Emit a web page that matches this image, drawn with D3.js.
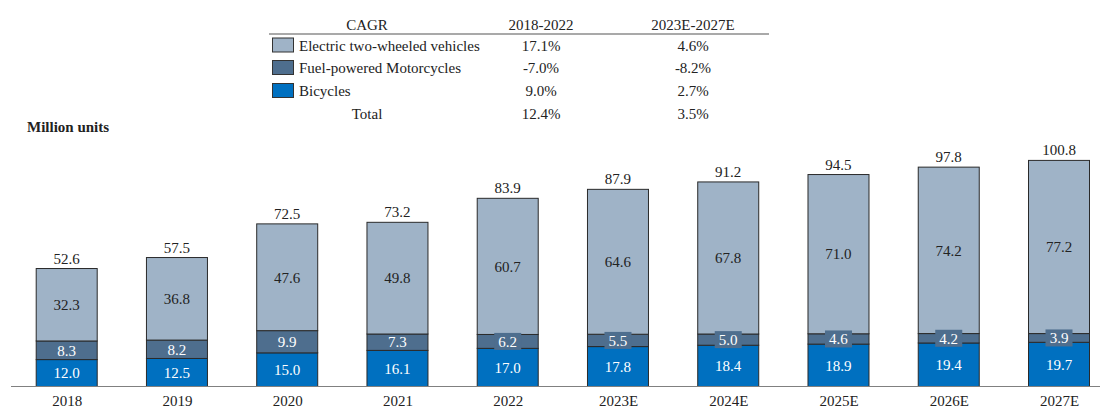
<!DOCTYPE html>
<html>
<head>
<meta charset="utf-8">
<script src="https://cdn.jsdelivr.net/npm/d3@7"></script>
<style>
  body { margin: 0; background: #fff; }
  svg { display: block; font-family: "Liberation Serif", "Times New Roman", serif; }
</style>
</head>
<body>
<section></section>
<script>
const years = ["2018", "2019", "2020", "2021", "2022", "2023E", "2024E", "2025E", "2026E", "2027E"];
const bicycles = [12.0, 12.5, 15.0, 16.1, 17.0, 17.8, 18.4, 18.9, 19.4, 19.7];
const fuelMoto = [8.3, 8.2, 9.9, 7.3, 6.2, 5.5, 5.0, 4.6, 4.2, 3.9];
const electric = [32.3, 36.8, 47.6, 49.8, 60.7, 64.6, 67.8, 71.0, 74.2, 77.2];
const totals = [52.6, 57.5, 72.5, 73.2, 83.9, 87.9, 91.2, 94.5, 97.8, 100.8];

const seriesNames = ["Electric two-wheeled vehicles", "Fuel-powered Motorcycles", "Bicycles"];
const cagrHeader = ["CAGR", "2018-2022", "2023E-2027E"];
const cagr1822 = ["17.1%", "-7.0%", "9.0%", "12.4%"];
const cagr2327 = ["4.6%", "-8.2%", "2.7%", "3.5%"];

const colors = ["#9fb3c7", "#4e6e8e", "#0070c0"];
const W = 1101, H = 408;
const fs = "15px";

const svg = d3.select("section").append("svg")
  .attr("width", W)
  .attr("height", H);

const x = d3.scalePoint().domain(years).range([66.7, 1059]);
const barW = 61;
const y = d3.scaleLinear().domain([0, 100]).range([386.5, 162.2]);

// stacked rows: bottom to top
const rows = years.map((yr, i) => ({ year: yr, bicycles: bicycles[i], fuel: fuelMoto[i], electric: electric[i], total: totals[i] }));
const stack = d3.stack().keys(["bicycles", "fuel", "electric"]);
const layers = stack(rows);
const layerColor = { bicycles: colors[2], fuel: colors[1], electric: colors[0] };
const labelColor = { bicycles: "#fff", fuel: "#fff", electric: "#222" };

const gBars = svg.append("g");
layers.forEach((layer) => {
  gBars.selectAll(null)
    .data(layer)
    .enter()
    .append("rect")
    .attr("x", (d) => x(d.data.year) - barW / 2)
    .attr("width", barW)
    .attr("y", (d) => y(d[1]))
    .attr("height", (d) => y(d[0]) - y(d[1]))
    .style("fill", layerColor[layer.key])
    .style("stroke", "#2a2a2a")
    .style("stroke-width", 1);
});

// segment labels
layers.forEach((layer) => {
  const g = svg.append("g");
  const items = g.selectAll(null).data(layer).enter().append("g")
    .attr("transform", (d) => `translate(${x(d.data.year)}, ${(y(d[0]) + y(d[1])) / 2})`);
  if (layer.key === "fuel") {
    // small segments get a label box that sticks out of the bar
    items.filter((d) => d.data.fuel < 7).append("rect")
      .attr("x", -13.5).attr("y", -8.5)
      .attr("width", 27).attr("height", 17)
      .style("fill", colors[1]);
  }
  items.append("text")
    .attr("text-anchor", "middle")
    .attr("dy", "0.35em")
    .style("font-size", fs)
    .style("fill", labelColor[layer.key])
    .text((d) => d.data[layer.key].toFixed(1));
});

// totals
svg.append("g").selectAll("text")
  .data(rows)
  .enter()
  .append("text")
  .attr("x", (d) => x(d.year))
  .attr("y", (d) => y(d.total) - 5)
  .attr("text-anchor", "middle")
  .style("font-size", fs)
  .style("fill", "#222")
  .text((d) => d.total.toFixed(1));

// x-axis
svg.append("line")
  .attr("x1", 11).attr("x2", 1100)
  .attr("y1", 386.5).attr("y2", 386.5)
  .style("stroke", "#808080")
  .style("stroke-width", 1.2);

const xAxis = d3.axisBottom(x).tickSize(0).tickPadding(9);
const gx = svg.append("g").attr("transform", "translate(0, 386.5)").call(xAxis);
gx.select(".domain").remove();
gx.selectAll("text")
  .style("font-family", "Liberation Serif, serif")
  .style("font-size", fs)
  .style("fill", "#222");

// unit label
svg.append("text")
  .attr("x", 27).attr("y", 132)
  .style("font-size", fs)
  .style("font-weight", "bold")
  .style("fill", "#222")
  .text("Million units");

// CAGR table legend
const table = svg.append("g").style("font-size", fs).style("fill", "#222");
const colX = [367, 541, 693];
const rowY = [50.5, 73, 96, 119];
cagrHeader.forEach((h, i) => {
  table.append("text").attr("x", colX[i]).attr("y", 29.5)
    .attr("text-anchor", "middle").style("fill", "#222").text(h);
});
table.append("line")
  .attr("x1", 269).attr("x2", 769)
  .attr("y1", 34).attr("y2", 34)
  .style("stroke", "#555").style("stroke-width", 1.2);

seriesNames.forEach((name, i) => {
  table.append("rect")
    .attr("x", 272.5).attr("y", rowY[i] - 12.5)
    .attr("width", 21).attr("height", 14)
    .style("fill", colors[i])
    .style("stroke", "#333").style("stroke-width", 1);
  table.append("text").attr("x", 299).attr("y", rowY[i])
    .style("fill", "#222").text(name);
});
table.append("text").attr("x", colX[0]).attr("y", rowY[3])
  .attr("text-anchor", "middle").style("fill", "#222").text("Total");

rowY.forEach((ry, i) => {
  table.append("text").attr("x", colX[1]).attr("y", ry)
    .attr("text-anchor", "middle").style("fill", "#222").text(cagr1822[i]);
  table.append("text").attr("x", colX[2]).attr("y", ry)
    .attr("text-anchor", "middle").style("fill", "#222").text(cagr2327[i]);
});
</script>
</body>
</html>
